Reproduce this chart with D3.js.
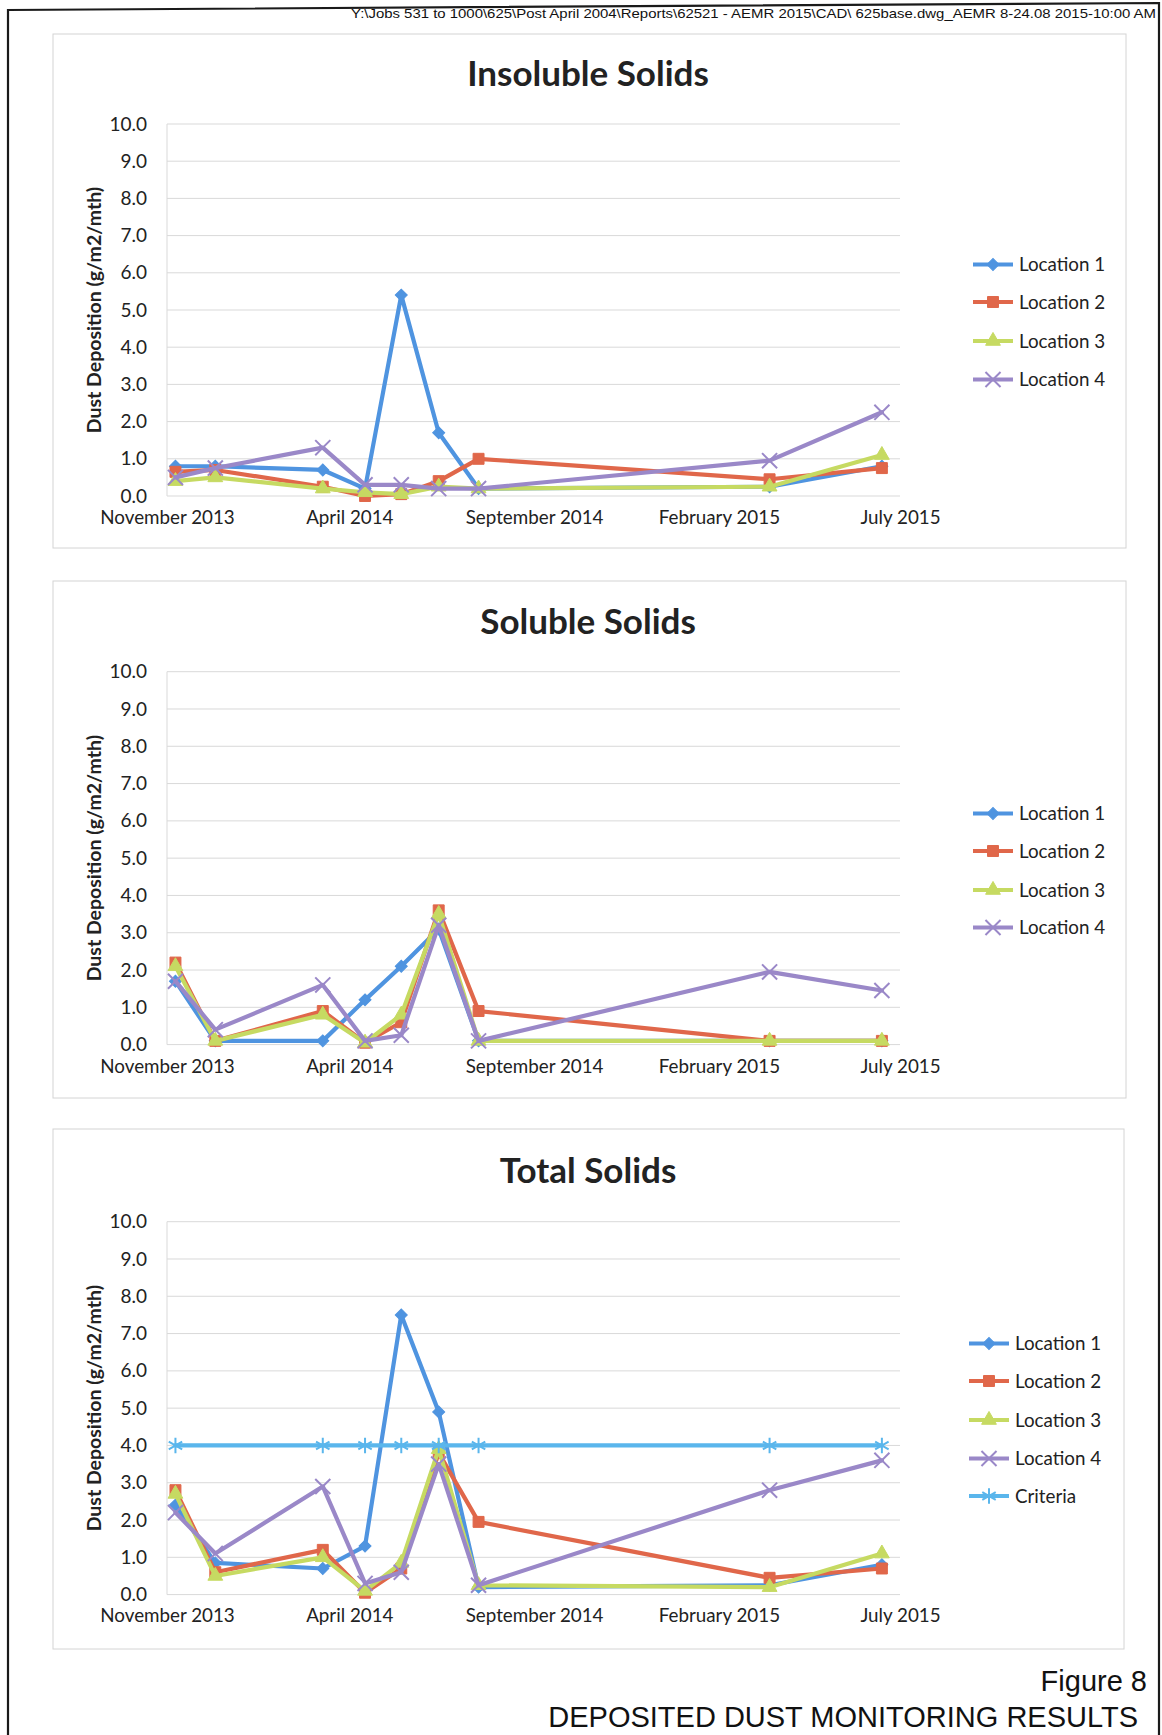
<!DOCTYPE html>
<html><head><meta charset="utf-8">
<script src="https://cdn.jsdelivr.net/npm/d3@7"></script>
<style>body{margin:0;background:#fff} svg{display:block}</style>
</head><body><svg id="c" width="1162" height="1735"></svg>
<script>
// ---------- DATA ----------
const sampleDates = ["2013-11-08","2013-12-11","2014-03-10","2014-04-14","2014-05-14","2014-06-14","2014-07-17","2015-03-15","2015-06-16"];
const xTickDates  = ["2013-11-01","2014-04-01","2014-09-01","2015-02-01","2015-07-01"];
const xTickLabels = ["November 2013","April 2014","September 2014","February 2015","July 2015"];
const yTicks = [0,1,2,3,4,5,6,7,8,9,10];
const seriesNames = ["Location 1","Location 2","Location 3","Location 4"];
const chartTitles = ["Insoluble Solids","Soluble Solids","Total Solids"];
const yAxisTitle = "Dust Deposition (g/m2/mth)";

const insolubleL1 = [0.8, 0.8, 0.7, 0.2, 5.4, 1.7, 0.2, 0.25, 0.8];
const insolubleL2 = [0.65,0.7, 0.25,0.0, 0.05,0.4, 1.0, 0.45, 0.75];
const insolubleL3 = [0.4, 0.5, 0.2, 0.1, 0.05,0.25,0.2, 0.25, 1.1];
const insolubleL4 = [0.5, 0.75,1.3, 0.3, 0.3, 0.2, 0.2, 0.95, 2.25];

const solubleL1 = [1.7, 0.1, 0.1, 1.2, 2.1, 3.1, 0.1, 0.1, 0.1];
const solubleL2 = [2.2, 0.1, 0.9, 0.05,0.6, 3.6, 0.9, 0.1, 0.1];
const solubleL3 = [2.1, 0.1, 0.8, 0.05,0.8, 3.5, 0.1, 0.1, 0.1];
const solubleL4 = [1.7, 0.4, 1.6, 0.1, 0.25,3.2, 0.1, 1.95,1.45];

const totalL1 = [2.4, 0.85,0.7, 1.3, 7.5, 4.9, 0.2, 0.25, 0.8];
const totalL2 = [2.8, 0.6, 1.2, 0.05,0.7, 3.8, 1.95,0.45, 0.7];
const totalL3 = [2.7, 0.5, 1.0, 0.1, 0.85,3.9, 0.25,0.2, 1.1];
const totalL4 = [2.2, 1.1, 2.9, 0.3, 0.6, 3.5, 0.25,2.8, 3.6];

const criteriaName = "Criteria";
const criteriaDates  = ["2013-11-08","2014-03-10","2014-04-14","2014-05-14","2014-06-14","2014-07-17","2015-03-15","2015-06-16"];
const criteriaValues = [4.0, 4.0, 4.0, 4.0, 4.0, 4.0, 4.0, 4.0];

const headerText = "Y:\\Jobs 531 to 1000\\625\\Post April 2004\\Reports\\62521 - AEMR 2015\\CAD\\ 625base.dwg_AEMR 8-24.08 2015-10:00 AM";
const figureLabel = "Figure 8";
const figureCaption = "DEPOSITED DUST MONITORING RESULTS";

// ---------- STYLE ----------
const colors = {"Location 1":"#4F94E0","Location 2":"#E0674A","Location 3":"#C6DA62","Location 4":"#9A88C8","Criteria":"#5AB6EC"};
const FONT = "Lato, 'Open Sans', sans-serif";
const parse = d3.timeParse("%Y-%m-%d");

const svg = d3.select("#c");
svg.append("rect").attr("width",1162).attr("height",1735).attr("fill","#fff");

// page frame
svg.append("path").attr("d","M8,1735 L8,10 L1159,3 L1159,1735")
  .attr("fill","none").attr("stroke","#1a1a1a").attr("stroke-width",2.2);

svg.append("text").attr("x",1156).attr("y",18).attr("text-anchor","end")
  .attr("font-family","'Liberation Sans', Arial, sans-serif").attr("font-size",13.5)
  .attr("textLength",805).attr("lengthAdjust","spacingAndGlyphs")
  .attr("fill","#111").text(headerText);

svg.append("text").attr("x",1147).attr("y",1691).attr("text-anchor","end")
  .attr("font-family","'Liberation Sans', Arial, sans-serif").attr("font-size",29)
  .attr("fill","#111").text(figureLabel);
svg.append("text").attr("x",1138).attr("y",1727).attr("text-anchor","end")
  .attr("font-family","'Liberation Sans', Arial, sans-serif").attr("font-size",29)
  .attr("fill","#111").text(figureCaption);

function symbolPath(name){
  const g = d3.symbol();
  if(name==="Location 1") return {d:g.type(d3.symbolSquare).size(72)(), rot:45, stroke:false};
  if(name==="Location 2") return {d:g.type(d3.symbolSquare).size(120)(), rot:0, stroke:false};
  if(name==="Location 3") return {d:g.type(d3.symbolTriangle).size(95)(), rot:0, stroke:false};
  if(name==="Location 4") return {d:g.type(d3.symbolTimes || d3.symbolX).size(150)(), rot:0, stroke:true};
  return {d:g.type(d3.symbolAsterisk).size(170)(), rot:0, stroke:true};
}

function drawMarker(sel, name, x, y){
  const s = symbolPath(name);
  sel.append("path").attr("d",s.d)
    .attr("transform",`translate(${x},${y}) rotate(${s.rot})`)
    .attr("fill", s.stroke ? "none" : colors[name])
    .attr("stroke", colors[name]).attr("stroke-width", s.stroke ? 2 : 1);
}

const charts = [
  {title:chartTitles[0], box:[53,34,1126,548], yTop:124, yBot:496, titleY:86,
   legendX:973, legendY:[264.5,302,341,379.5], xLabY:529,
   series:[[seriesNames[0],sampleDates,insolubleL1],[seriesNames[1],sampleDates,insolubleL2],[seriesNames[2],sampleDates,insolubleL3],[seriesNames[3],sampleDates,insolubleL4]]},
  {title:chartTitles[1], box:[53,581,1126,1098], yTop:671.7, yBot:1044.6, titleY:634,
   legendX:973, legendY:[813.5,851,890,927.5], xLabY:1078,
   series:[[seriesNames[0],sampleDates,solubleL1],[seriesNames[1],sampleDates,solubleL2],[seriesNames[2],sampleDates,solubleL3],[seriesNames[3],sampleDates,solubleL4]]},
  {title:chartTitles[2], box:[53,1129,1124,1649], yTop:1221.7, yBot:1594.6, titleY:1183,
   legendX:969, legendY:[1343.5,1381,1420,1458.5,1496], xLabY:1627,
   series:[[seriesNames[0],sampleDates,totalL1],[seriesNames[1],sampleDates,totalL2],[seriesNames[2],sampleDates,totalL3],[seriesNames[3],sampleDates,totalL4],[criteriaName,criteriaDates,criteriaValues]]}
];

const xLeft = 167, xRight = 900;

charts.forEach(cfg => {
  const g = svg.append("g");
  const [bx0,by0,bx1,by1] = cfg.box;
  g.append("rect").attr("x",bx0).attr("y",by0).attr("width",bx1-bx0).attr("height",by1-by0)
    .attr("fill","none").attr("stroke","#d4d4d4").attr("stroke-width",1);

  const x = d3.scaleTime().domain([parse(xTickDates[0]), parse(xTickDates[xTickDates.length-1])]).range([xLeft,xRight]);
  const y = d3.scaleLinear().domain([0,10]).range([cfg.yBot,cfg.yTop]);

  // gridlines
  g.append("g").selectAll("line").data(yTicks).join("line")
    .attr("x1",xLeft).attr("x2",xRight).attr("y1",d=>y(d)).attr("y2",d=>y(d))
    .attr("stroke","#d9d9d9").attr("stroke-width",1);
  g.append("line").attr("x1",xLeft).attr("x2",xLeft).attr("y1",cfg.yTop).attr("y2",cfg.yBot)
    .attr("stroke","#d9d9d9").attr("stroke-width",1);

  // y axis labels
  const ya = g.append("g").attr("transform",`translate(${xLeft-20},0)`)
    .call(d3.axisLeft(y).tickValues(yTicks).tickFormat(d3.format(".1f")).tickSize(0).tickPadding(0));
  ya.select(".domain").remove();
  ya.selectAll("text").attr("font-family",FONT).attr("font-size",19).attr("fill","#222");

  // x axis labels
  const xa = g.append("g").attr("transform",`translate(0,${cfg.xLabY-18})`)
    .call(d3.axisBottom(x).tickValues(xTickDates.map(parse)).tickFormat((d,i)=>xTickLabels[i]).tickSize(0).tickPadding(0));
  xa.select(".domain").remove();
  xa.selectAll("text").attr("font-family",FONT).attr("font-size",18.8).attr("fill","#222");

  // titles
  g.append("text").attr("x",588).attr("y",cfg.titleY).attr("text-anchor","middle")
    .attr("font-family",FONT).attr("font-weight","bold").attr("font-size",35).attr("fill","#222").text(cfg.title);
  const yc = (cfg.yTop+cfg.yBot)/2;
  g.append("text").attr("transform",`translate(101,${yc}) rotate(-90)`).attr("text-anchor","middle")
    .attr("font-family",FONT).attr("font-weight","bold").attr("font-size",19.5).attr("fill","#222").text(yAxisTitle);

  // series
  const line = d3.line().x(d=>x(d[0])).y(d=>y(d[1]));
  cfg.series.forEach(([name,dates,vals]) => {
    const pts = dates.map((d,i)=>[parse(d),vals[i]]);
    const sg = g.append("g");
    sg.append("path").attr("d",line(pts)).attr("fill","none")
      .attr("stroke",colors[name]).attr("stroke-width",4.2).attr("stroke-linejoin","round").attr("stroke-linecap","round");
    pts.forEach(p => drawMarker(sg, name, x(p[0]), y(p[1])));
  });

  // legend
  cfg.series.forEach(([name],i) => {
    const ly = cfg.legendY[i];
    const lg = g.append("g");
    lg.append("line").attr("x1",cfg.legendX).attr("x2",cfg.legendX+40).attr("y1",ly).attr("y2",ly)
      .attr("stroke",colors[name]).attr("stroke-width",4.2);
    drawMarker(lg, name, cfg.legendX+20, ly);
    lg.append("text").attr("x",cfg.legendX+46).attr("y",ly).attr("dy","0.35em")
      .attr("font-family",FONT).attr("font-size",18.8).attr("fill","#222").text(name);
  });
});
</script></body></html>
